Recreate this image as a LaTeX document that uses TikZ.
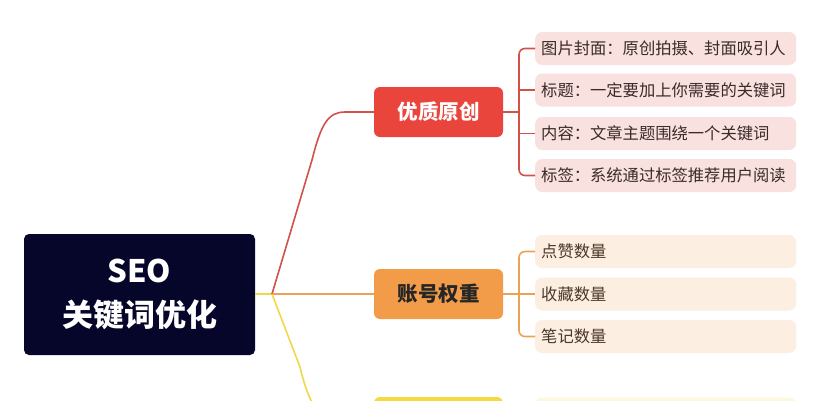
\documentclass[tikz,border=0pt]{standalone}
\usepackage{fontspec}
\setmainfont{Noto Sans CJK SC}
\begin{document}
\begin{tikzpicture}[x=1pt,y=-1pt,
  rootbox/.style={fill=rootc,text=white,rounded corners=5pt,minimum width=231pt,minimum height=121pt,align=center,font=\fontsize{31}{44}\selectfont\bfseries,inner sep=0pt},
  catbox/.style={rounded corners=6pt,minimum width=129pt,minimum height=50pt,inner sep=0pt,font=\fontsize{20.5}{24}\selectfont\bfseries},
  leafbox/.style={anchor=west,rounded corners=7pt,text width=249pt,inner xsep=6pt,inner ysep=0pt,minimum height=33pt,align=left,font=\fontsize{16.3}{19}\selectfont},
  redleaf/.style={leafbox,fill=redleafc,text=leaftextc},
  orleaf/.style={leafbox,fill=orleafc,text=orleaftextc},
  yeleaf/.style={leafbox,fill=yeleafc},
  redln/.style={draw=redlinec,line width=1.6pt},
  orln/.style={draw=orlinec,line width=1.6pt},
  yeln/.style={draw=yelinec,line width=1.6pt},
]
\definecolor{rootc}{HTML}{06062A}
\definecolor{redc}{HTML}{E9453D}
\definecolor{orc}{HTML}{F29B48}
\definecolor{yec}{HTML}{F5DA3F}
\definecolor{redlinec}{HTML}{D2514B}
\definecolor{orlinec}{HTML}{EBA258}
\definecolor{yelinec}{HTML}{EFD84A}
\definecolor{redleafc}{HTML}{F9E1E0}
\definecolor{orleafc}{HTML}{FDEEE2}
\definecolor{yeleafc}{HTML}{FDF7DC}
\definecolor{leaftextc}{HTML}{3A2A28}
\definecolor{orleaftextc}{HTML}{4A3828}
\clip (0,0) rectangle (824,400);
\fill[white] (0,0) rectangle (824,400);

\node[rootbox] (root) at (139.5,294.5) {SEO\\关键词优化};
\coordinate (J) at (272,294);

\node[catbox,fill=redc,text=white] (red) at (438.5,112) {优质原创};
\node[catbox,fill=orc,text=black!85] (org) at (438.5,294) {账号权重};
\node[catbox,fill=yec] (yel) at (438.5,422) {};

\node[redleaf] (r1) at (535,48.5) {图片封面：原创拍摄、封面吸引人};
\node[redleaf] (r2) at (535,90) {标题：一定要加上你需要的关键词};
\node[redleaf] (r3) at (535,133.5) {内容：文章主题围绕一个关键词};
\node[redleaf] (r4) at (535,175.5) {标签：系统通过标签推荐用户阅读};

\node[orleaf] (o1) at (535,251.5) {点赞数量};
\node[orleaf] (o2) at (535,294) {收藏数量};
\node[orleaf] (o3) at (535,336.5) {笔记数量};

\node[yeleaf] (y1) at (535,414) {};

% trunk
\draw[yeln] (root.east |- J) -- (J);
\draw[orln] (J) -- (org.west);
\draw[redln] (J) -- (312,160) .. controls (321,124) and (328,112) .. (345,112) -- (red.west);
\draw[yeln] (J) -- (300,367) .. controls (310,408) and (320,422) .. (345,422) -- (yel.west);

% red bracket
\draw[redln,rounded corners=6pt] (r1.west) -- ++(-16,0) |- (r4.west);
\draw[redln] (r2.west) -- ++(-16,0);
\draw[redln] (r3.west) -- ++(-16,0);
\draw[redln] (red.east) -- (red.east -| 519,0);

% orange bracket
\draw[orln,rounded corners=6pt] (o1.west) -- ++(-16,0) |- (o3.west);
\draw[orln] (o2.west) -- (org.east);
\end{tikzpicture}
\end{document}
